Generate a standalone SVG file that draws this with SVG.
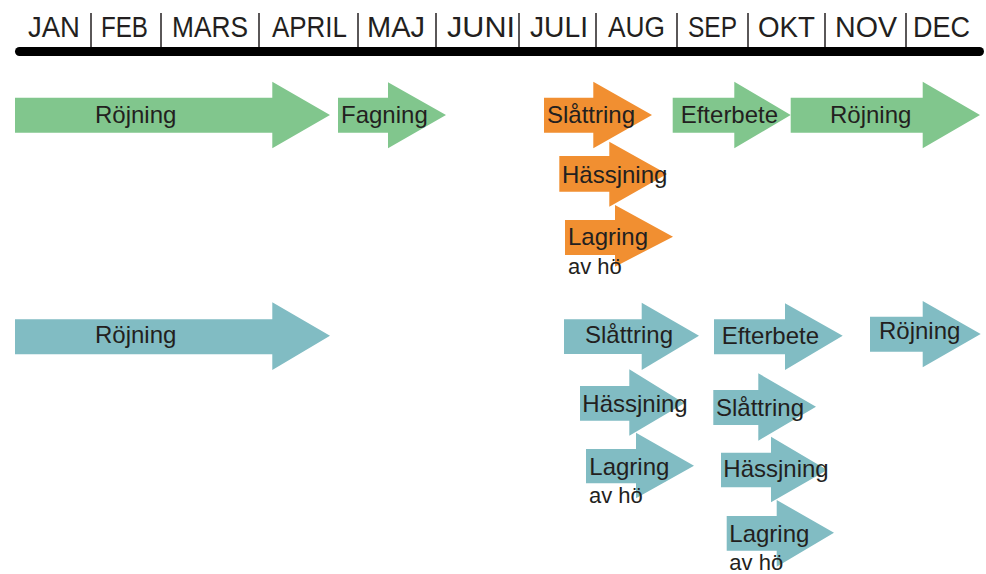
<svg xmlns="http://www.w3.org/2000/svg" width="986" height="574" viewBox="0 0 986 574">
<style>
.g{fill:#81C68D}
.o{fill:#F18F31}
.t{fill:#81BCC3}
text{font-family:"Liberation Sans",Arial,sans-serif;fill:#231F20}
.lbl{font-size:24px}
.sub{font-size:22px}
.m{font-size:30px}
.sep{stroke:#231F20;stroke-width:1.5}
</style>
<rect width="986" height="574" fill="#fff"/>
<g id="timeline">
<line x1="19.5" y1="51.5" x2="979.5" y2="51.5" stroke="#000" stroke-width="9" stroke-linecap="round"/>
<g class="sep">
<line x1="91" y1="13" x2="91" y2="47"/><line x1="161" y1="13" x2="161" y2="47"/><line x1="259" y1="13" x2="259" y2="47"/><line x1="358" y1="13" x2="358" y2="47"/><line x1="436" y1="13" x2="436" y2="47"/><line x1="519" y1="13" x2="519" y2="47"/><line x1="596" y1="13" x2="596" y2="47"/><line x1="677" y1="13" x2="677" y2="47"/><line x1="748" y1="13" x2="748" y2="47"/><line x1="825" y1="13" x2="825" y2="47"/><line x1="906" y1="13" x2="906" y2="47"/>
</g>
<g class="m" lengthAdjust="spacingAndGlyphs">
<text class="m" x="28" y="37" textLength="52" lengthAdjust="spacingAndGlyphs">JAN</text>
<text class="m" x="101" y="37" textLength="47" lengthAdjust="spacingAndGlyphs">FEB</text>
<text class="m" x="172" y="37" textLength="76" lengthAdjust="spacingAndGlyphs">MARS</text>
<text class="m" x="272" y="37" textLength="75" lengthAdjust="spacingAndGlyphs">APRIL</text>
<text class="m" x="367" y="37" textLength="58" lengthAdjust="spacingAndGlyphs">MAJ</text>
<text class="m" x="447" y="37" textLength="68" lengthAdjust="spacingAndGlyphs">JUNI</text>
<text class="m" x="530" y="37" textLength="58" lengthAdjust="spacingAndGlyphs">JULI</text>
<text class="m" x="608" y="37" textLength="57" lengthAdjust="spacingAndGlyphs">AUG</text>
<text class="m" x="688" y="37" textLength="49" lengthAdjust="spacingAndGlyphs">SEP</text>
<text class="m" x="758" y="37" textLength="57" lengthAdjust="spacingAndGlyphs">OKT</text>
<text class="m" x="835" y="37" textLength="62" lengthAdjust="spacingAndGlyphs">NOV</text>
<text class="m" x="913" y="37" textLength="57" lengthAdjust="spacingAndGlyphs">DEC</text>
</g>
</g>
<g id="connectors"/>
<!-- Row 1 (green/orange) -->
<g id="r1-rojning">
<polygon class="g" points="15,97.7 272.3,97.7 272.3,81.7 330,115 272.3,148.3 272.3,132.7 15,132.7"/>
<text class="lbl" x="95" y="122.7">Röjning</text>
</g>
<g id="r1-fagning">
<polygon class="g" points="338,97.7 388,97.7 388,82.3 446,115 388,148.3 388,132.7 338,132.7"/>
<text class="lbl" x="341" y="122.7">Fagning</text>
</g>
<g id="r1-slattring">
<polygon class="o" points="544,97.7 593.3,97.7 593.3,81.7 652,115 593.3,148.3 593.3,132.7 544,132.7"/>
<text class="lbl" x="547" y="123">Slåttring</text>
</g>
<g id="r1-hassjning">
<polygon class="o" points="559.3,156 609.3,156 609.3,141.7 667,174 609.3,206.7 609.3,191.7 559.3,191.7"/>
<text class="lbl" x="562" y="183">Hässjning</text>
</g>
<g id="r1-lagring">
<polygon class="o" points="565,220 615,220 615,205 673,236.7 615,266.7 615,255 565,255"/>
<text class="lbl" x="568" y="245">Lagring</text>
<text class="sub" x="568" y="274">av hö</text>
</g>
<g id="r1-efterbete">
<polygon class="g" points="672.7,97.7 734.3,97.7 734.3,81.7 790.7,115 734.3,148.3 734.3,132.7 672.7,132.7"/>
<text class="lbl" x="680.7" y="123">Efterbete</text>
</g>
<g id="r1-rojning2">
<polygon class="g" points="790.7,97.7 922.7,97.7 922.7,81.7 980,115 922.7,148.3 922.7,132.7 790.7,132.7"/>
<text class="lbl" x="830" y="123">Röjning</text>
</g>
<!-- Row 2 (teal) -->
<g id="r2-rojning">
<polygon class="t" points="15,319.3 272.3,319.3 272.3,302.3 330,335.7 272.3,370 272.3,354.3 15,354.3"/>
<text class="lbl" x="95" y="342.7">Röjning</text>
</g>
<g id="r2-slattring">
<polygon class="t" points="564,319.3 641.7,319.3 641.7,302.7 699,335.7 641.7,370 641.7,354 564,354"/>
<text class="lbl" x="585" y="342.7">Slåttring</text>
</g>
<g id="r2-efterbete">
<polygon class="t" points="714,319.3 785,319.3 785,303.3 842.7,335.7 785,370 785,354.3 714,354.3"/>
<text class="lbl" x="721.7" y="344.3">Efterbete</text>
</g>
<g id="r2-rojning2">
<polygon class="t" points="870,316.7 922.7,316.7 922.7,301 980.7,334 922.7,367.3 922.7,351.7 870,351.7"/>
<text class="lbl" x="879" y="339.3">Röjning</text>
</g>
<g id="r2-hassjning">
<polygon class="t" points="580,386 629.3,386 629.3,369.3 684.3,403.3 629.3,435.7 629.3,420.7 580,420.7"/>
<text class="lbl" x="582.3" y="411.7">Hässjning</text>
</g>
<g id="r2-lagring">
<polygon class="t" points="586,449 636,449 636,432.7 694,465.7 636,498.3 636,483.3 586,483.3"/>
<text class="lbl" x="589.3" y="475">Lagring</text>
<text class="sub" x="589" y="503.3">av hö</text>
</g>
<g id="r2-slattring2">
<polygon class="t" points="713.3,390 758.3,390 758.3,373.3 816,406.7 758.3,440.7 758.3,425 713.3,425"/>
<text class="lbl" x="716" y="416">Slåttring</text>
</g>
<g id="r2-hassjning2">
<polygon class="t" points="721,452.7 771,452.7 771,436.7 827.3,470 771,502.3 771,487.3 721,487.3"/>
<text class="lbl" x="723.3" y="477.3">Hässjning</text>
</g>
<g id="r2-lagring2">
<polygon class="t" points="726.7,516 776.7,516 776.7,500 834,532.7 776.7,566.7 776.7,550.7 726.7,550.7"/>
<text class="lbl" x="729.3" y="541.7">Lagring</text>
<text class="sub" x="729.3" y="570">av hö</text>
</g>
</svg>
